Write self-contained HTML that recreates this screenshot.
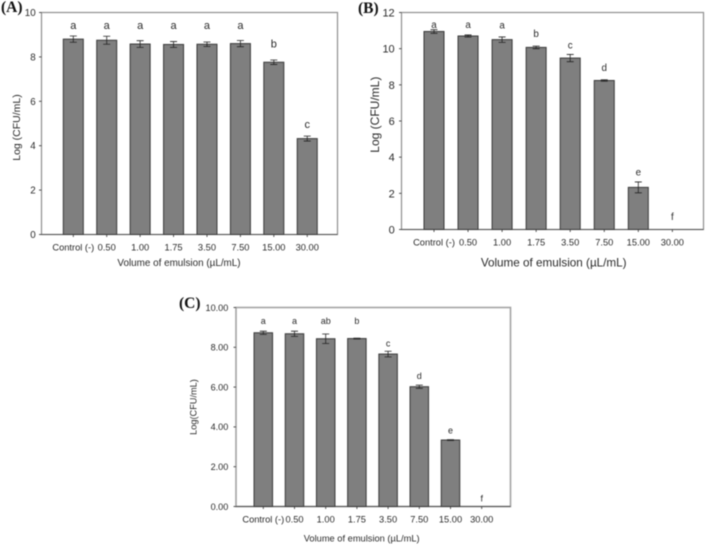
<!DOCTYPE html>
<html>
<head>
<meta charset="utf-8">
<title>Log CFU/mL versus volume of emulsion</title>
<style>
html,body{margin:0;padding:0;background:#fff;width:708px;height:547px;overflow:hidden}
svg{display:block;filter:blur(0.4px)}
text{font-family:"Liberation Sans",sans-serif;fill:#2a2a2a}
.panel-tag{font-family:"Liberation Serif",serif;font-weight:bold;font-size:15.5px;fill:#111}
</style>
</head>
<body>
<svg id="figure" width="708" height="547" viewBox="0 0 708 547" xmlns="http://www.w3.org/2000/svg"></svg>
<script>
const categories = ["Control (-)", "0.50", "1.00", "1.75", "3.50", "7.50", "15.00", "30.00"];

const valuesA = [8.80, 8.75, 8.58, 8.56, 8.57, 8.60, 7.76, 4.32];
const errorsA = [0.14, 0.18, 0.15, 0.13, 0.10, 0.14, 0.10, 0.11];
const lettersA = ["a", "a", "a", "a", "a", "a", "b", "c"];
const letterLevelsA = [9.4, 9.4, 9.4, 9.4, 9.4, 9.4, 8.55, 4.93];
const ticksA = ["0", "2", "4", "6", "8", "10"];

const valuesB = [10.95, 10.70, 10.50, 10.07, 9.48, 8.24, 2.33, 0];
const errorsB = [0.10, 0.06, 0.15, 0.07, 0.20, 0.04, 0.30, 0];
const lettersB = ["a", "a", "a", "b", "c", "d", "e", "f"];
const letterLevelsB = [11.3, 11.3, 11.25, 10.8, 10.15, 8.92, 3.12, 0.68];
const ticksB = ["0", "2", "4", "6", "8", "10", "12"];

const valuesC = [8.73, 8.68, 8.43, 8.44, 7.66, 6.02, 3.34, 0];
const errorsC = [0.08, 0.13, 0.24, 0.02, 0.14, 0.08, 0.02, 0];
const lettersC = ["a", "a", "ab", "b", "c", "d", "e", "f"];
const letterLevelsC = [9.3, 9.3, 9.3, 9.3, 8.15, 6.53, 3.78, 0.37];
const ticksC = ["0.00", "2.00", "4.00", "6.00", "8.00", "10.00"];

const svgNS = "http://www.w3.org/2000/svg";
const figure = document.getElementById("figure");

function make(parent, tag, attrs, content) {
  const el = document.createElementNS(svgNS, tag);
  for (const k in attrs) el.setAttribute(k, attrs[k]);
  if (content !== undefined) el.textContent = content;
  parent.appendChild(el);
  return el;
}

function drawPanel(p) {
  const g = make(figure, "g", {});
  
  

  const yMax = parseFloat(p.ticks[p.ticks.length - 1]);
  const yScale = v => p.bottom - (v / yMax) * (p.bottom - p.top);
  const xScale = i => p.first + i * p.step;

  const tag = make(g, "text", {x: p.tagX, y: p.tagY, "class": "panel-tag"}, "(" + p.id.toUpperCase() + ")");
  
  

  const frame = make(g, "rect", {x: p.left, y: p.top, width: p.right - p.left, height: p.bottom - p.top, fill: "none", stroke: p.frameColor, "stroke-width": p.frameWidth});
  
  

  const baseline = make(g, "line", {x1: p.left, x2: p.right, y1: p.bottom, y2: p.bottom, stroke: "#555", "stroke-width": 1});
  
  

  p.ticks.forEach(t => {
    const y = yScale(parseFloat(t));
    const tick = make(g, "line", {x1: p.left - 2.5, x2: p.left, y1: y, y2: y, stroke: "#444", "stroke-width": 0.9});
    
    
    const label = make(g, "text", {x: p.yTickRight, y: y + p.yTickSize * 0.36, "text-anchor": "end", "font-size": p.yTickSize}, t);
    
    
  });

  categories.forEach((c, i) => {
    const cx = xScale(i);
    const tick = make(g, "line", {x1: cx, x2: cx, y1: p.bottom, y2: p.bottom + 2.5, stroke: "#444", "stroke-width": 0.9});
    
    
    const label = make(g, "text", {x: cx, y: p.xTickBase, "text-anchor": "middle", "font-size": 9.3}, c);
    
    

    const v = p.values[i];
    if (v > 0) {
      const top = yScale(v);
      const bar = make(g, "rect", {x: cx - p.barW / 2, y: top, width: p.barW, height: p.bottom - top, fill: "#7f7f7f", stroke: "#3a3a3a", "stroke-width": 1});
      
      

      const hi = yScale(v + p.errors[i]);
      const lo = yScale(v - p.errors[i]);
      const err = make(g, "path", {d: "M" + (cx - 3.5) + " " + hi + "H" + (cx + 3.5) + "M" + cx + " " + hi + "V" + lo + "M" + (cx - 3.5) + " " + lo + "H" + (cx + 3.5), fill: "none", stroke: "#222", "stroke-width": 0.8});
      
      
    }

    const letter = make(g, "text", {x: cx, y: yScale(p.levels[i]) + p.letterSize * 0.27, "text-anchor": "middle", "font-size": p.letterSize}, p.letters[i]);
    
    
  });

  const xTitle = make(g, "text", {x: p.xTitleX, y: p.xTitleY, "text-anchor": "middle", "font-size": p.xTitleSize}, "Volume of emulsion (\u00B5L/mL)");
  
  

  const yTitle = make(g, "text", {x: 0, y: 0, "text-anchor": "middle", "font-size": p.yTitleSize, transform: "translate(" + p.yTitleX + " " + p.yTitleY + ") rotate(-90)"}, p.yTitle);
  
  
}

drawPanel({
  id: "a", values: valuesA, errors: errorsA, letters: lettersA, levels: letterLevelsA, ticks: ticksA,
  left: 41.5, right: 337.5, top: 12.5, bottom: 234.5, first: 73.3, step: 33.42, barW: 20,
  frameColor: "#8f8f8f", frameWidth: 1.2,
  tagX: 1, tagY: 12, yTickRight: 35.7, yTickSize: 9.8, xTickBase: 250.7, letterSize: 11,
  xTitleX: 179, xTitleY: 266, xTitleSize: 9.9, yTitle: "Log (CFU/mL)", yTitleX: 20, yTitleY: 127.5, yTitleSize: 10.5
});

drawPanel({
  id: "b", values: valuesB, errors: errorsB, letters: lettersB, levels: letterLevelsB, ticks: ticksB,
  left: 401.5, right: 703.5, top: 12.5, bottom: 229.5, first: 434, step: 34.05, barW: 20,
  frameColor: "#8f8f8f", frameWidth: 1.2,
  tagX: 358, tagY: 13, yTickRight: 394.7, yTickSize: 11, xTickBase: 245.3, letterSize: 9.8,
  xTitleX: 553.7, xTitleY: 266.7, xTitleSize: 11.7, yTitle: "Log (CFU/mL)", yTitleX: 379, yTitleY: 114.7, yTitleSize: 12
});

drawPanel({
  id: "c", values: valuesC, errors: errorsC, letters: lettersC, levels: letterLevelsC, ticks: ticksC,
  left: 236, right: 510.5, top: 307.5, bottom: 506.5, first: 263.3, step: 31.2, barW: 18.5,
  frameColor: "#a3a3a3", frameWidth: 1.6,
  tagX: 179, tagY: 308, yTickRight: 228.3, yTickSize: 9.1, xTickBase: 522.3, letterSize: 9,
  xTitleX: 361.7, xTitleY: 541.7, xTitleSize: 9.3, yTitle: "Log(CFU/mL)", yTitleX: 196.7, yTitleY: 407, yTitleSize: 9.2
});
</script>
</body>
</html>
